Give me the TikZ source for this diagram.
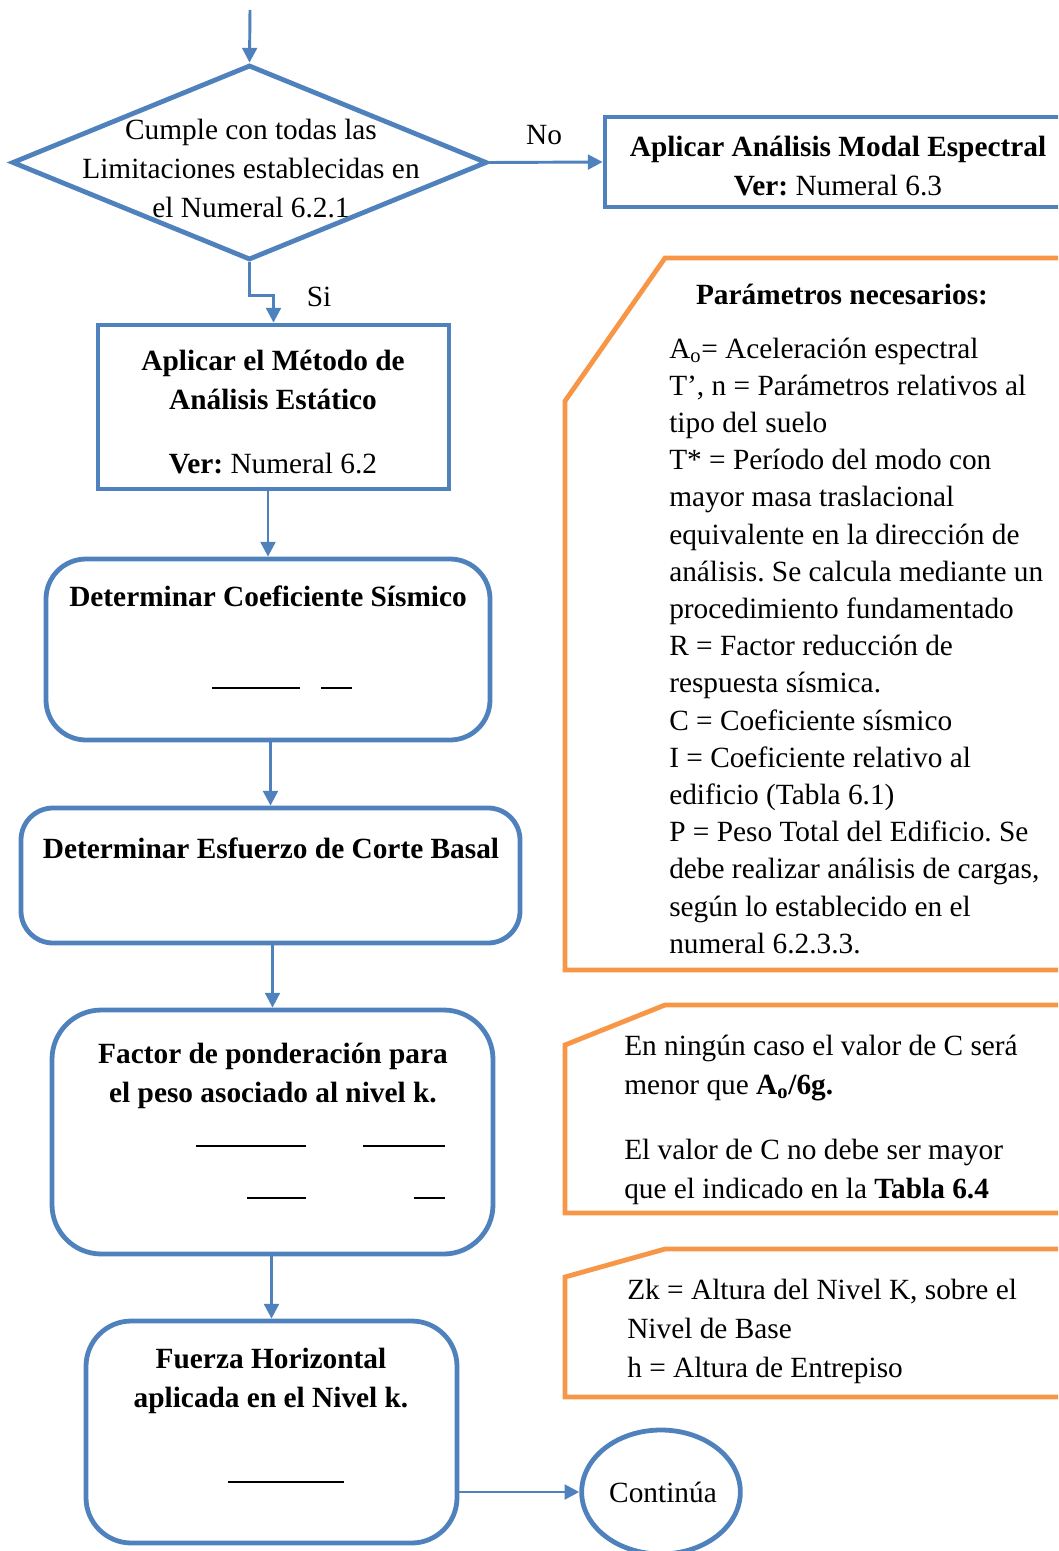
\documentclass[tikz,border=0pt]{standalone}
\usepackage{fontspec}
\setmainfont{Liberation Serif}
\usetikzlibrary{shapes.geometric,arrows.meta}
\definecolor{flowblue}{RGB}{79,129,189}
\definecolor{noteorange}{RGB}{247,150,70}
% text block whose first line sits on the node's base anchor
\newcommand{\tblk}[2]{\begin{tabular}[t]{@{}#1@{}}#2\end{tabular}}
\frenchspacing

\begin{document}
\begin{tikzpicture}[x=0.75pt,y=-0.75pt,
  every node/.style={font=\fontsize{22}{29.25}\selectfont, inner sep=0pt},
  box/.style={draw=flowblue, line width=3.6pt},
  rbox/.style={box, rounded corners=#1},
  conn/.style={draw=flowblue, line width=2.2pt, -{Triangle[length=11pt,width=11pt]}},
  note/.style={draw=noteorange, line width=3.6pt, line join=miter},
  blank/.style={draw=black, line width=1.5pt},
  txt/.style={anchor=base},
  ltxt/.style={anchor=base west},
]
\useasboundingbox (0,0) rectangle (1058,1551);
\clip (0,0) rectangle (1058,1551);

% ---- flow shapes ----
\node[diamond, draw=flowblue, line width=3.6pt, minimum width=356.25pt, minimum height=146.25pt] (dec) at (249.5,162.5) {};
\node[box, minimum width=345pt, minimum height=67.5pt] (modal) at (835,162) {};
\node[box, minimum width=263.25pt, minimum height=123pt] (est) at (273.5,407) {};
\node[rbox=30pt, minimum width=333pt, minimum height=135.75pt] (coef) at (268,649.5) {};
\node[rbox=24pt, minimum width=374.25pt, minimum height=101.25pt] (corte) at (270.5,875.5) {};
\node[rbox=37pt, minimum width=330.75pt, minimum height=183pt] (factor) at (272.5,1132) {};
\node[rbox=34pt, minimum width=278.25pt, minimum height=166.5pt] (fuerza) at (271.5,1432) {};
\node[ellipse, draw=flowblue, line width=3.6pt, minimum width=119pt, minimum height=93pt] (cont) at (661,1492) {};

% ---- connectors ----
\coordinate (start) at (250,10);
\draw[conn] (start) -- (dec.north);
\draw[conn] (dec.east) -- (modal.west);
\draw[conn] (dec.south) -- ++(0,33) -| (est.north);
\draw[conn] (coef.north |- est.south) -- (coef.north);
\draw[conn] (corte.north |- coef.south) -- (corte.north);
\draw[conn] (factor.north |- corte.south) -- (factor.north);
\draw[conn] (fuerza.north |- factor.south) -- (fuerza.north);
\draw[conn] (fuerza.east |- cont.west) -- (cont.west);

% ---- texts ----
\node[txt] (qtxt) at (251,140) {\tblk{c}{Cumple con todas las\\Limitaciones establecidas en\\el Numeral 6.2.1}};
\node[txt] (nolbl) at (544,145) {No};
\node[txt] (silbl) at (319,306) {Si};
\node[txt] (mtxt) at (838,157) {\tblk{c}{\textbf{Aplicar Análisis Modal Espectral}\\\textbf{Ver:} Numeral 6.3}};
\node[txt] (etxt) at (273,370) {\tblk{c}{\textbf{Aplicar el Método de}\\\textbf{Análisis Estático}}};
\node[txt] (evtxt) at (273,473) {\textbf{Ver:} Numeral 6.2};
\node[txt] (ctxt) at (268,606) {\textbf{Determinar Coeficiente Sísmico}};
\node[txt] (btxt) at (271,858) {\textbf{Determinar Esfuerzo de Corte Basal}};
\node[txt] (ftxt) at (273,1063) {\tblk{c}{\textbf{Factor de ponderación para}\\\textbf{el peso asociado al nivel k.}}};
\node[txt] (htxt) at (271,1368) {\tblk{c}{\textbf{Fuerza Horizontal}\\\textbf{aplicada en el Nivel k.}}};
\node[txt] (ctext) at (663,1502) {Continúa};

% ---- fraction bars of the formulas ----
\draw[blank] (212,688) -- (300,688);
\draw[blank] (321,688) -- (352,688);
\draw[blank] (196,1146) -- (306,1146);
\draw[blank] (363,1146) -- (445,1146);
\draw[blank] (247,1198) -- (306,1198);
\draw[blank] (414,1198) -- (445,1198);
\draw[blank] (228,1482) -- (344,1482);

% ---- orange notes ----
\draw[note] (1070,970) -- (565,970) -- (565,401) -- (665,258) -- (1070,258);
\draw[note] (1070,1213) -- (565,1213) -- (565,1045) -- (665,1005) -- (1070,1005);
\draw[note] (1070,1397) -- (565,1397) -- (565,1277) -- (665,1249) -- (1070,1249);

\node[txt] (ptitle) at (842,305) {\textbf{Parámetros necesarios:}};
\node[ltxt, font=\fontsize{22}{27.9}\selectfont] (plist) at (669,358) {\tblk{l}{%
A\textsubscript{o}= Aceleración espectral\\
T’, n = Parámetros relativos al\\
tipo del suelo\\
T* = Período del modo con\\
mayor masa traslacional\\
equivalente en la dirección de\\
análisis. Se calcula mediante un\\
procedimiento fundamentado\\
R = Factor reducción de\\
respuesta sísmica.\\
C = Coeficiente sísmico\\
I = Coeficiente relativo al\\
edificio (Tabla 6.1)\\
P = Peso Total del Edificio. Se\\
debe realizar análisis de cargas,\\
según lo establecido en el\\
numeral 6.2.3.3.}};
\node[ltxt] (n2txt) at (624,1055) {\tblk{l}{En ningún caso el valor de C será\\
menor que \textbf{A\textsubscript{o}/6g.}\\[19.5pt]
El valor de C no debe ser mayor\\
que el indicado en la \textbf{Tabla 6.4}}};
\node[ltxt] (n3txt) at (627,1299) {\tblk{l}{Zk = Altura del Nivel K, sobre el\\
Nivel de Base\\
h = Altura de Entrepiso}};
\end{tikzpicture}
\end{document}
